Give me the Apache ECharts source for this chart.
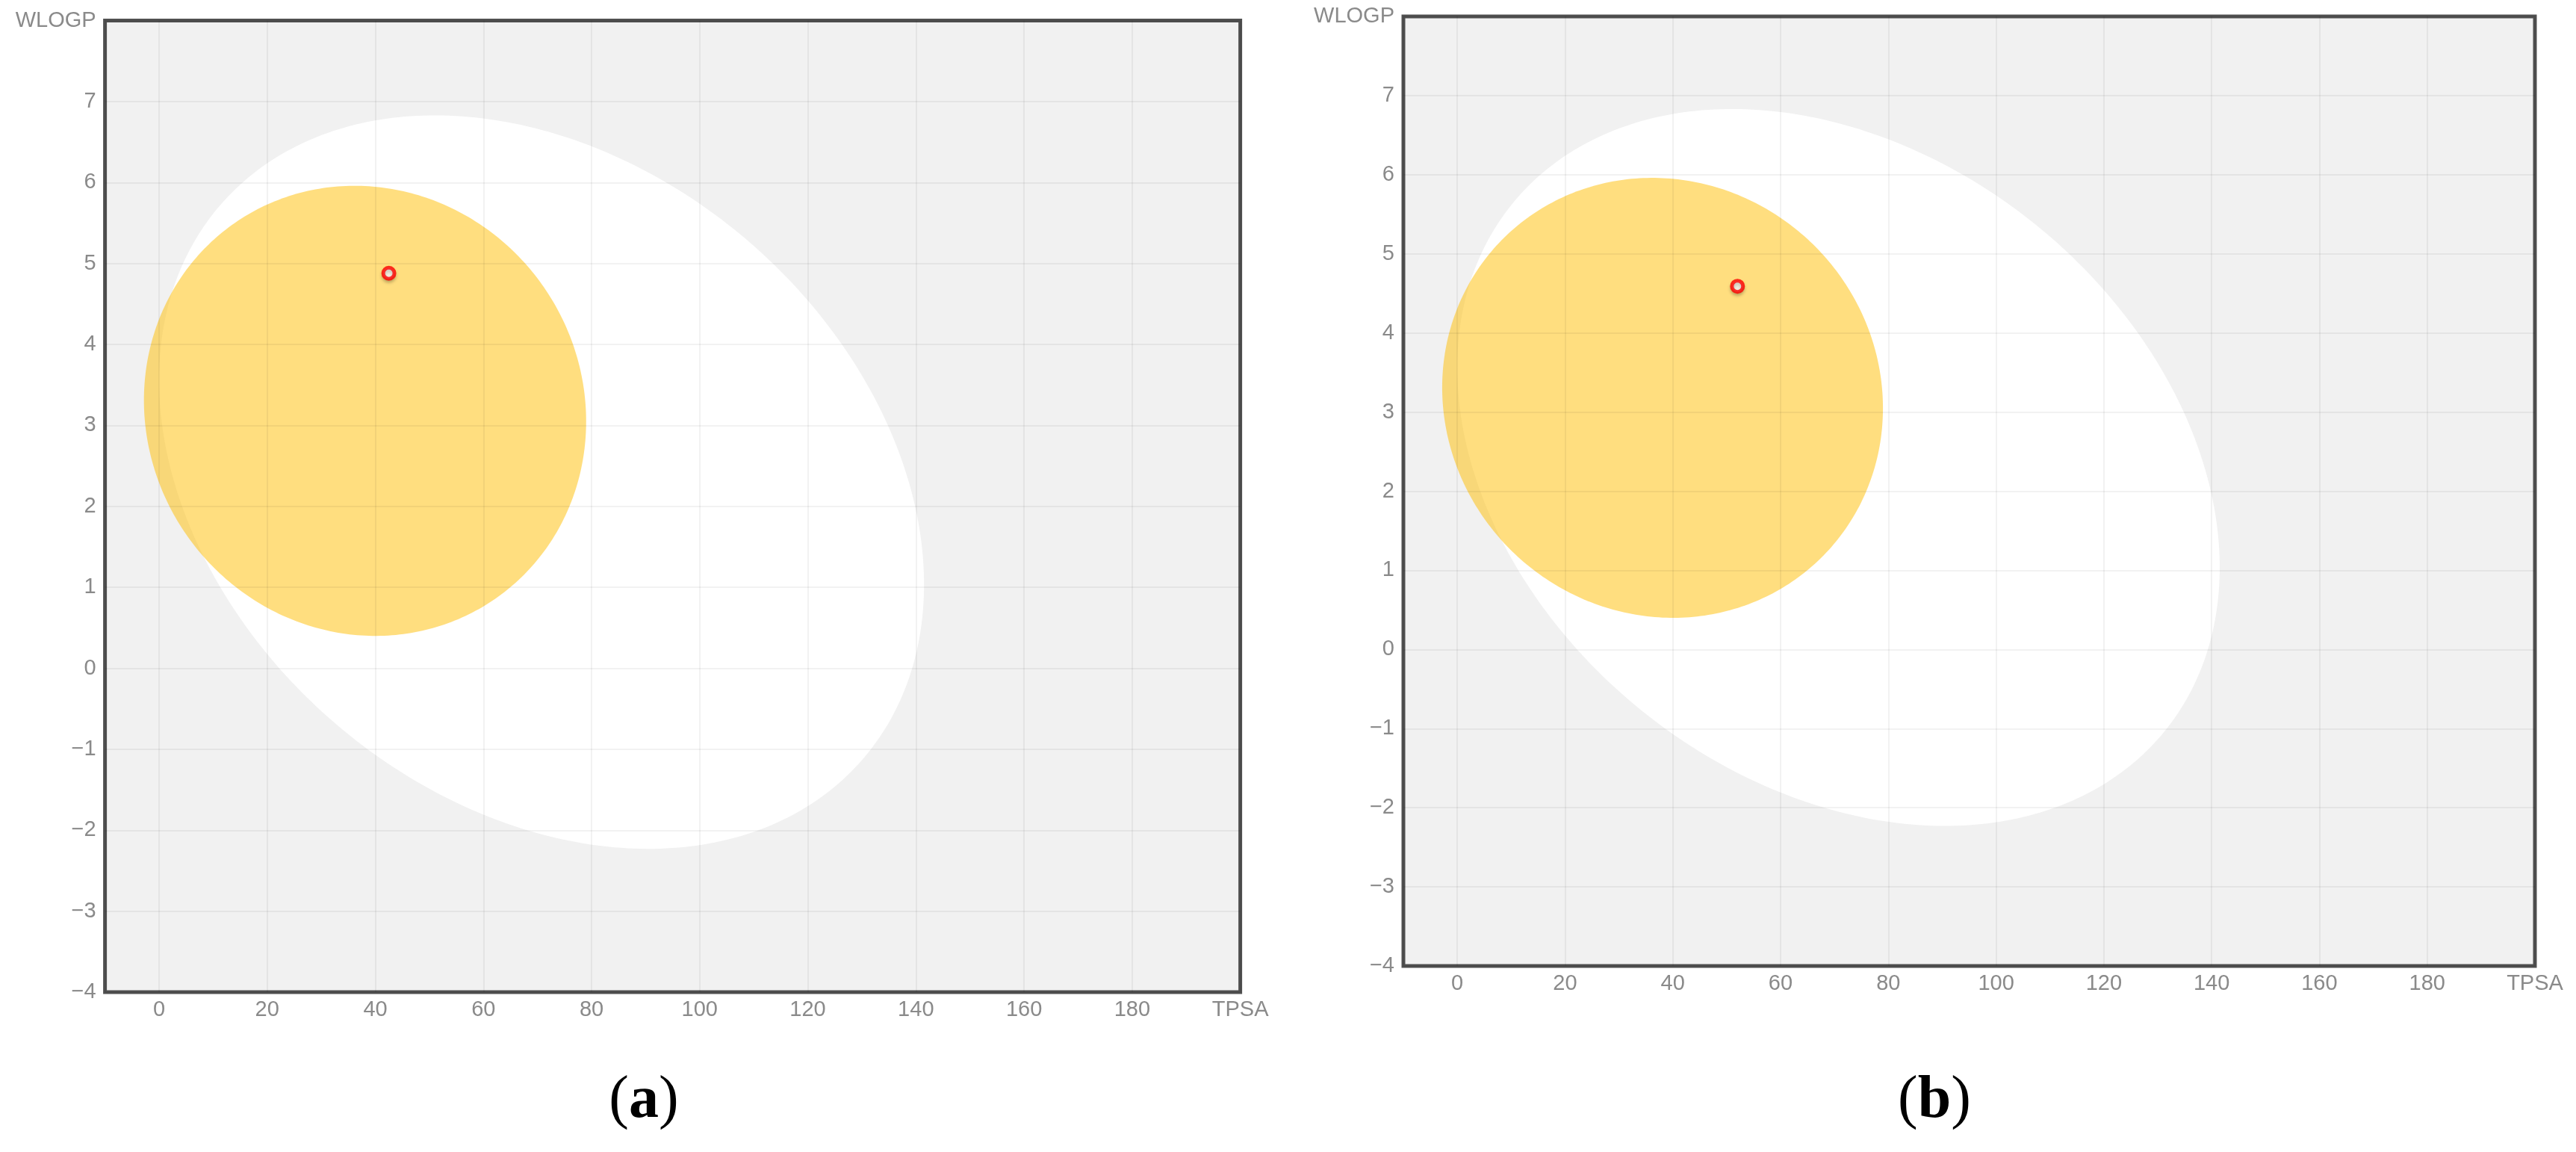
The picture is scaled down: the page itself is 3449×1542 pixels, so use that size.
<!DOCTYPE html>
<html>
<head>
<meta charset="utf-8">
<script src="https://cdn.jsdelivr.net/npm/echarts@6/dist/echarts.min.js"></script>
<style>
html,body{margin:0;padding:0;background:#fff;}
#chart{width:3449px;height:1542px;}
</style>
</head>
<body>
<div id="chart"></div>
<script>
// ---- data ----
const panelLabels = ['a', 'b'];
const xAxisName = 'TPSA';
const yAxisName = 'WLOGP';
const xRange = [-10, 200];
const yRange = [-4, 8];
// molecule position per panel
const moleculeTPSA = [42.5, 52.0];
const moleculeWLOGP = [4.88, 4.59];
// ellipses: [centre TPSA, centre WLOGP, half-width (TPSA), half-height (WLOGP), correlation]
const hiaEllipse = [70.75, 2.30, 70.75, 4.53, -0.279];   // white (HIA)
const bbbEllipse = [38.1, 3.18, 40.9, 2.78, -0.047];      // yolk (BBB)

// ---- layout ----
const grids = [
  {left: 140.6, top: 27.6, width: 1520, height: 1300.4},
  {left: 1879, top: 22, width: 1515, height: 1271}
];
const captionPos = [[862, 1474], [2590, 1474]];

const labelColor = '#8a8a8a';
const fontFam = '"Liberation Sans", Arial, Helvetica, sans-serif';

function fmtNum(v) {
  return v < 0 ? '\u2212' + Math.abs(v) : String(v);
}

function ellipseRender(params, api) {
  const cx = api.value(0), cy = api.value(1), w = api.value(2), h = api.value(3), r = api.value(4);
  const s = Math.sqrt(1 - r * r);
  const pts = [];
  const n = 360;
  for (let i = 0; i < n; i++) {
    const t = 2 * Math.PI * i / n;
    pts.push(api.coord([cx + w * Math.cos(t), cy + h * (r * Math.cos(t) + s * Math.sin(t))]));
  }
  return {type: 'polygon', shape: {points: pts}, style: {fill: api.visual('color')}};
}

const option = {
  animation: false,
  backgroundColor: '#ffffff',
  grid: grids.map(g => Object.assign({
    show: true, backgroundColor: '#f1f1f1', borderColor: '#505050', borderWidth: 5, containLabel: false
  }, g)),
  xAxis: grids.map((g, i) => ({
    type: 'value', gridIndex: i, min: xRange[0], max: xRange[1],
    splitNumber: 10, minInterval: 20, maxInterval: 20, z: 3,
    axisLine: {show: false}, axisTick: {show: false},
    splitLine: {show: true, lineStyle: {color: 'rgba(0,0,0,0.05)', width: 2}},
    axisLabel: {
      color: labelColor, fontSize: 29, fontFamily: fontFam, margin: 9,
      showMinLabel: false,
      formatter: v => v === xRange[1] ? xAxisName : (v === xRange[0] ? '' : fmtNum(v))
    }
  })),
  yAxis: grids.map((g, i) => ({
    type: 'value', gridIndex: i, min: yRange[0], max: yRange[1], interval: 1, z: 3,
    axisLine: {show: false}, axisTick: {show: false},
    splitLine: {show: true, lineStyle: {color: 'rgba(0,0,0,0.05)', width: 2}},
    axisLabel: {
      color: labelColor, fontSize: 29, fontFamily: fontFam, margin: 12,
      formatter: v => v === yRange[1] ? yAxisName : fmtNum(v)
    }
  })),
  series: [],
  graphic: panelLabels.map((p, i) => ({
    type: 'text', x: captionPos[i][0], y: captionPos[i][1],
    style: {
      text: '{p|(}{b|' + p + '}{p|)}',
      align: 'center', verticalAlign: 'middle',
      rich: {
        p: {fontFamily: '"Liberation Serif", "Times New Roman", serif', fontSize: 80, fill: '#000'},
        b: {fontFamily: '"Liberation Serif", "Times New Roman", serif', fontSize: 80, fontWeight: 'bold', fill: '#000'}
      }
    }
  }))
};

grids.forEach((g, i) => {
  option.series.push({
    type: 'custom', xAxisIndex: i, yAxisIndex: i, z: 1,
    itemStyle: {color: '#ffffff'},
    encode: {x: 0, y: 1},
    renderItem: ellipseRender,
    data: [hiaEllipse]
  });
  option.series.push({
    type: 'custom', xAxisIndex: i, yAxisIndex: i, z: 2,
    itemStyle: {color: 'rgba(255,190,0,0.5)'},
    encode: {x: 0, y: 1},
    renderItem: ellipseRender,
    data: [bbbEllipse]
  });
  option.series.push({
    type: 'scatter', xAxisIndex: i, yAxisIndex: i, z: 5,
    symbol: 'circle', symbolSize: 15,
    itemStyle: {
      color: '#ffffff', borderColor: '#ff0000', borderWidth: 5,
      shadowBlur: 4, shadowOffsetY: 3, shadowColor: 'rgba(0,0,0,0.25)'
    },
    data: [[moleculeTPSA[i], moleculeWLOGP[i]]]
  });
});

const chart = echarts.init(document.getElementById('chart'), null, {renderer: 'canvas'});
chart.setOption(option);
</script>
</body>
</html>
